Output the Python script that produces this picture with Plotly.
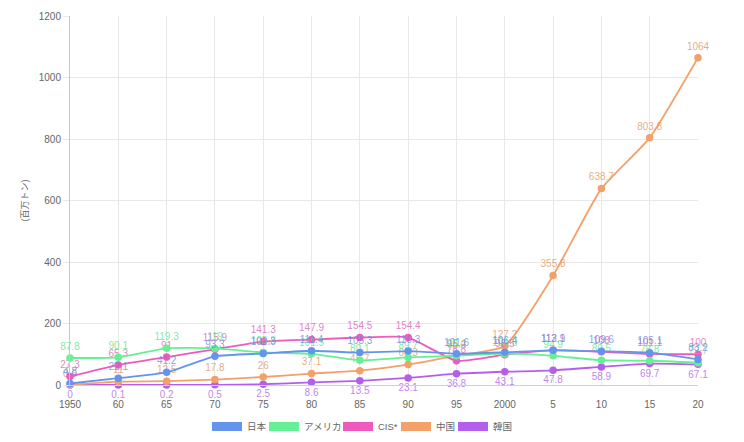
import plotly.graph_objects as go

years = ["1950", "60", "65", "70", "75", "80", "85", "90", "95", "2000", "5", "10", "15", "20"]
japan = [4.8, 22.1, 41.2, 93.3, 102.3, 111.4, 105.3, 110.3, 101.6, 106.4, 112.9, 109.6, 105.1, 83.2]
usa = [87.8, 90.1, 119.3, 119.0, 105.8, 101.5, 80.1, 89.7, 95.2, 101.8, 94.9, 80.5, 78.8, 72.7]
cis = [27.3, 65.3, 91, 115.9, 141.3, 147.9, 154.5, 154.4, 78.8, 98.5, 113.1, 108.0, 101.1, 100]
china = [0.6, 11, 12.5, 17.8, 26, 37.1, 46.7, 66.3, 95.4, 127.2, 355.8, 638.7, 803.8, 1064]
korea = [0, 0.1, 0.2, 0.5, 2.5, 8.6, 13.5, 23.1, 36.8, 43.1, 47.8, 58.9, 69.7, 67.1]

names = ["日本", "アメリカ", "CIS*", "中国", "韓国"]
series = [japan, usa, cis, china, korea]
colors = ["rgb(100,149,237)", "rgb(102,240,150)", "rgb(240,90,190)", "rgb(244,160,105)", "rgb(180,95,235)"]
label_colors = ["rgba(100,140,220,0.8)", "rgba(100,225,145,0.8)", "rgba(215,100,185,0.8)",
                "rgba(225,150,100,0.8)", "rgba(175,100,225,0.8)"]

FONT = "Liberation Sans, Arial, Noto Sans CJK JP, sans-serif"

fig = go.Figure()
# draw in reverse so first dataset is on top (like Chart.js)
for i in reversed(range(len(series))):
    vals = series[i]
    fig.add_trace(go.Scatter(
        x=list(range(len(years))), y=vals, name=names[i],
        mode="lines+markers+text",
        line=dict(color=colors[i], width=1.8, shape="spline", smoothing=0.5),
        marker=dict(color=colors[i], size=7.5),
        text=[f"{v:g}" for v in vals],
        textposition="bottom center" if i == 4 else "top center",
        textfont=dict(size=10, color=label_colors[i], family=FONT),
        showlegend=False,
        cliponaxis=False,
    ))

# page body has an 8px offset
OFF = 8
L, R, T, B = 70 - OFF, 54, 16 - OFF, 442 - (385 - OFF)
W, H = 744, 442
pw, ph = W - L - R, H - T - B

# manual Chart.js-style legend (positions in window pixels)
legend_x = [212, 269, 343, 401, 458]
box_w = 30
for i, nm in enumerate(names):
    px = legend_x[i] - OFF
    x0 = (px - L) / pw
    x1 = (px + box_w - L) / pw
    y0 = -((422 - OFF) - (H - B)) / ph
    y1 = -((431 - OFF) - (H - B)) / ph
    fig.add_shape(type="rect", xref="paper", yref="paper", x0=x0, x1=x1, y0=y0, y1=y1,
                  fillcolor=colors[i], line=dict(width=0))
    fig.add_annotation(xref="paper", yref="paper", x=(px + box_w + 3 - L) / pw,
                       y=(y0 + y1) / 2, text=nm, showarrow=False, xanchor="left", yanchor="middle",
                       font=dict(size=9.5, color="#666", family=FONT))

fig.update_layout(
    width=W, height=H,
    margin=dict(l=L, r=R, t=T, b=B, autoexpand=False),
    paper_bgcolor="white", plot_bgcolor="white",
    font=dict(family=FONT, color="#666", size=11),
    xaxis=dict(
        type="linear", range=[0, len(years) - 1],
        tickmode="array", tickvals=list(range(len(years))), ticktext=years,
        showgrid=True, gridcolor="#e8e8e8", gridwidth=1,
        zeroline=False, showline=True, linecolor="#d0d0d0",
        ticks="outside", ticklen=10, tickcolor="rgba(0,0,0,0)",
        tickfont=dict(size=10, color="#666"),
    ),
    yaxis=dict(
        range=[0, 1200], tickvals=[0, 200, 400, 600, 800, 1000, 1200],
        showgrid=True, gridcolor="#e8e8e8", gridwidth=1,
        zeroline=False, showline=True, linecolor="#c8c8c8",
        ticks="outside", ticklen=6, tickcolor="#e8e8e8",
        tickfont=dict(size=10, color="#666"),
        title=dict(text="(百万トン)", font=dict(size=9, color="#666"), standoff=8),
    ),
)

fig.write_html("out.html")
